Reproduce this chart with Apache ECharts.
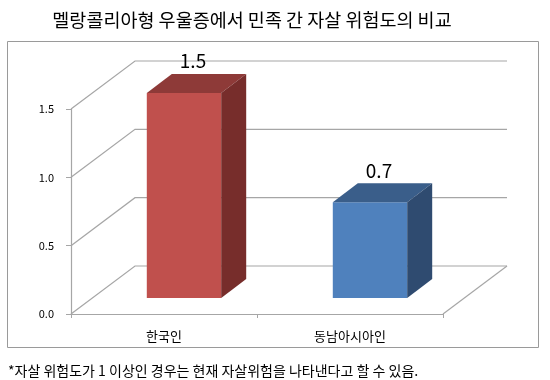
<!DOCTYPE html>
<html><head><meta charset="utf-8">
<script src="https://cdn.jsdelivr.net/npm/echarts@6/dist/echarts.min.js"></script>
<style>html,body{margin:0;padding:0;background:#fff}#c{width:550px;height:380px}</style>
</head><body><div id="c"></div>
<script>
const titleText = '멜랑콜리아형 우울증에서 민족 간 자살 위험도의 비교';
const footnote = '*자살 위험도가 1 이상인 경우는 현재 자살위험을 나타낸다고 할 수 있음.';
const categories = ['한국인', '동남아시아인'];
const values = [1.5, 0.7];
const valueLabels = ['1.5', '0.7'];
const yTicks = [0, 0.5, 1.0, 1.5];
const frontColors = ['#C0504D', '#4F81BD'];
const topColors = ['#8E3A38', '#3A5E8A'];
const sideColors = ['#772D2B', '#2F4B70'];

const FONT = "'Noto Sans CJK KR', 'Noto Sans', sans-serif";
const DEPTH = [64, -48];
const BAR_OFF = [20, -16];
const BAR_DEPTH = [25, -19];
const BAR_RATIO = 0.4;
const GRID_COLOR = '#A6A6A6';

const chart = echarts.init(document.getElementById('c'), null, {renderer: 'canvas'});

function wallItem(params, api) {
  const v = api.value(1);
  const p = api.coord([0, v]);
  const bw = api.size([1, 0])[0];
  const left = p[0] - bw / 2;
  const right = left + bw * categories.length;
  const y = p[1];
  const children = [{
    type: 'polyline',
    shape: {points: [[left, y], [left + DEPTH[0], y + DEPTH[1]], [right + DEPTH[0], y + DEPTH[1]]]},
    style: {stroke: GRID_COLOR, lineWidth: 1.2, fill: null}
  }];
  if (v === 0) {
    children.push({
      type: 'line',
      shape: {x1: right, y1: y, x2: right + DEPTH[0], y2: y + DEPTH[1]},
      style: {stroke: GRID_COLOR, lineWidth: 1.2}
    });
  }
  return {type: 'group', children};
}

function barItem(params, api) {
  const i = api.value(0);
  const v = api.value(1);
  const base = api.coord([i, 0]);
  const top = api.coord([i, v]);
  const bw = api.size([1, 0])[0];
  const w = bw * BAR_RATIO;
  const x0 = base[0] - w / 2 + BAR_OFF[0];
  const x1 = x0 + w;
  const y0 = base[1] + BAR_OFF[1];
  const yT = top[1] + BAR_OFF[1];
  const dx = BAR_DEPTH[0], dy = BAR_DEPTH[1];
  return {
    type: 'group',
    children: [
      {type: 'polygon', shape: {points: [[x0, yT], [x1, yT], [x1, y0], [x0, y0]]}, style: {fill: frontColors[i]}},
      {type: 'polygon', shape: {points: [[x0, yT], [x0 + dx, yT + dy], [x1 + dx, yT + dy], [x1, yT]]}, style: {fill: topColors[i]}},
      {type: 'polygon', shape: {points: [[x1, yT], [x1 + dx, yT + dy], [x1 + dx, y0 + dy], [x1, y0]]}, style: {fill: sideColors[i]}},
      {type: 'text', style: {text: valueLabels[i], x: (x0 + x1) / 2 + 9, y: yT + dy - 13, align: 'center', verticalAlign: 'middle', fontSize: 19, fontFamily: FONT, fill: '#000'}}
    ]
  };
}

chart.setOption({
  animation: false,
  backgroundColor: '#fff',
  grid: {left: 71, right: 107, top: 109, bottom: 66},
  xAxis: {
    type: 'category',
    data: categories,
    boundaryGap: true,
    axisLine: {lineStyle: {color: GRID_COLOR, width: 1.2}},
    axisTick: {show: true, length: 4, lineStyle: {color: GRID_COLOR}},
    axisLabel: {color: '#000', fontSize: 13, fontFamily: FONT, margin: 16},
    splitLine: {show: false}
  },
  yAxis: {
    type: 'value',
    min: 0, max: 1.5, interval: 0.5,
    axisLine: {show: true, lineStyle: {color: GRID_COLOR, width: 1.2}},
    axisTick: {show: true, length: 5, lineStyle: {color: GRID_COLOR}},
    axisLabel: {color: '#000', fontSize: 11, fontFamily: FONT, margin: 17, formatter: v => v.toFixed(1)},
    splitLine: {show: false}
  },
  graphic: [
    {type: 'rect', shape: {x: 7.5, y: 41.5, width: 531, height: 306}, style: {fill: null, stroke: '#9A9A9A', lineWidth: 1}, z: -1},
    {type: 'text', x: 252, y: 20, style: {text: titleText, align: 'center', verticalAlign: 'middle', fontSize: 18.5, fontFamily: FONT, fill: '#000'}},
    {type: 'text', x: 8, y: 371, style: {text: footnote, align: 'left', verticalAlign: 'middle', fontSize: 14, fontFamily: FONT, fill: '#000'}}
  ],
  series: [
    {type: 'custom', renderItem: wallItem, data: yTicks.map(v => [0, v]), z: 1, silent: true},
    {type: 'custom', renderItem: barItem, data: values.map((v, i) => [i, v]), z: 2, silent: true}
  ]
});
</script>
</body></html>
